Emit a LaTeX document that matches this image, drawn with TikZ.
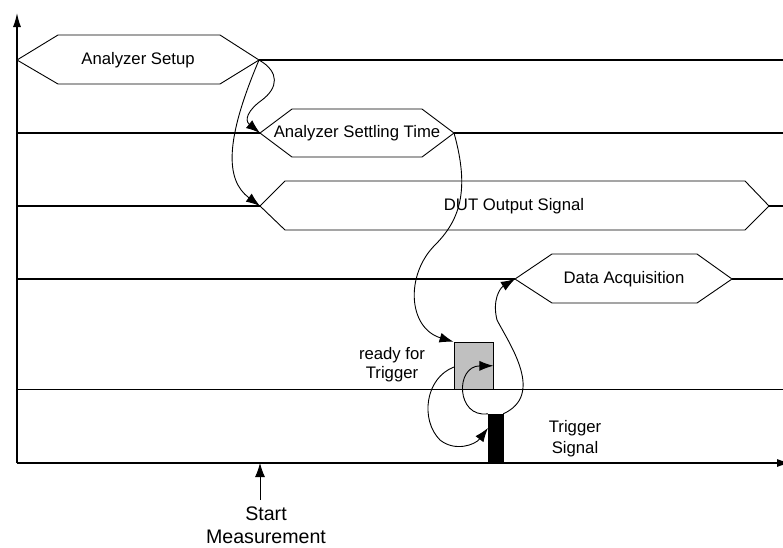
\documentclass[tikz,border=0pt]{standalone}
\usepackage{fontspec}
\setmainfont{Liberation Sans}
\usetikzlibrary{arrows.meta}
\tikzset{
  hexa/.style={draw=black, line width=0.9pt, line join=miter},
  lane/.style={draw=black, line width=1.1pt},
  conn/.style={draw=black, line width=0.9pt, -{Latex[length=14pt,width=10pt]}},
  lbl/.style={font=\fontsize{16.7}{20}\selectfont, inner sep=0pt, align=center},
  axisarrow/.style={draw=black, line width=1.2pt, -{Latex[length=14pt,width=8pt]}}
}
\begin{document}
\begin{tikzpicture}[x=1pt, y=-1pt]
\useasboundingbox (0,0) rectangle (783,547);
% hexagon corner coordinates
\coordinate (setupL) at (17,60);
\coordinate (setupR) at (259,60);
\coordinate (settleL) at (260,133);
\coordinate (settleR) at (454,133);
\coordinate (dutL) at (260,206);
\coordinate (dutR) at (769,206);
\coordinate (daqL) at (515,279);
\coordinate (daqR) at (732,279);
\coordinate (orig) at (17,463);
\coordinate (ytip) at (17,13);
\coordinate (xtip) at (791,463);
\coordinate (smTip) at (260,463);
\coordinate (smTail) at (260,500);
\coordinate (readyOut) at (454,367);
\coordinate (trigIn) at (488,428);
% lanes
\draw[lane] (setupR) -- (783,60);
\draw[lane] (17,133) -- (settleL);
\draw[lane] (settleR) -- (783,133);
\draw[lane] (17,206) -- (dutL);
\draw[lane] (dutR) -- (783,206);
\draw[lane] (17,279) -- (daqL);
\draw[lane] (daqR) -- (783,279);
\draw[lane] (17,389.5) -- (783,389.5);
% axes
\draw[axisarrow] (orig) -- (ytip);
\draw[axisarrow] (orig) -- (xtip);
% hexagons
\draw[hexa, fill=white] (setupL) -- (58,35) -- (220,35) -- (setupR) -- (220,84) -- (58,84) -- cycle;
\draw[hexa, fill=white] (settleL) -- (292,109) -- (422,109) -- (settleR) -- (422,157) -- (292,157) -- cycle;
\draw[hexa, fill=white] (dutL) -- (285,181) -- (745,181) -- (dutR) -- (745,230) -- (285,230) -- cycle;
\draw[hexa, fill=white] (daqL) -- (552,254) -- (697,254) -- (daqR) -- (697,303) -- (552,303) -- cycle;
% texts
\node[lbl] (setup) at (138,60) {Analyzer Setup};
\node[lbl] (settle) at (357,133) {Analyzer Settling Time};
\node[lbl] (dut) at (514,206) {DUT Output Signal};
\node[lbl] (daq) at (624,279) {Data Acquisition};
% ready box and trigger bar
\node[draw=black, line width=0.9pt, fill={rgb,255:red,192;green,192;blue,192}, minimum width=39pt, minimum height=47pt, inner sep=0pt] (ready) at (473.5,365.75) {};
\node[draw=black, fill=black, minimum width=15pt, minimum height=49pt, inner sep=0pt] (trig) at (495.5,438.5) {};
\node[lbl, font=\fontsize{16.7}{19}\selectfont] (readylbl) at (392,365) {ready for\\Trigger};
\node[lbl, font=\fontsize{16.7}{21}\selectfont] (triglbl) at (575,439) {Trigger\\Signal};
\node[lbl, font=\fontsize{19.6}{23}\selectfont] (startlbl) at (266,525) {Start\\Measurement};
% connectors
\draw[conn] (setupR) .. controls (280,72) and (278,88) .. (262,100) .. controls (248,110) and (244,120) .. (settleL);
\draw[conn] (setupR) .. controls (225,140) and (225,180) .. (dutL);
\draw[conn] (settleR) .. controls (470,190) and (460,220) .. (435,245) .. controls (405,275) and (408,328) .. (ready.north west);
\draw[conn] (readyOut) .. controls (425,378) and (420,420) .. (440,440) .. controls (455,452) and (475,445) .. (trigIn);
\draw[conn] (trig.north west) .. controls (456,418) and (455,366) .. (ready.east);
\draw[conn] (trig.north east) .. controls (545,395) and (510,345) .. (497,320) .. controls (492,300) and (500,288) .. (daqL);
\draw[conn] (smTail) -- (smTip);
\end{tikzpicture}
\end{document}
